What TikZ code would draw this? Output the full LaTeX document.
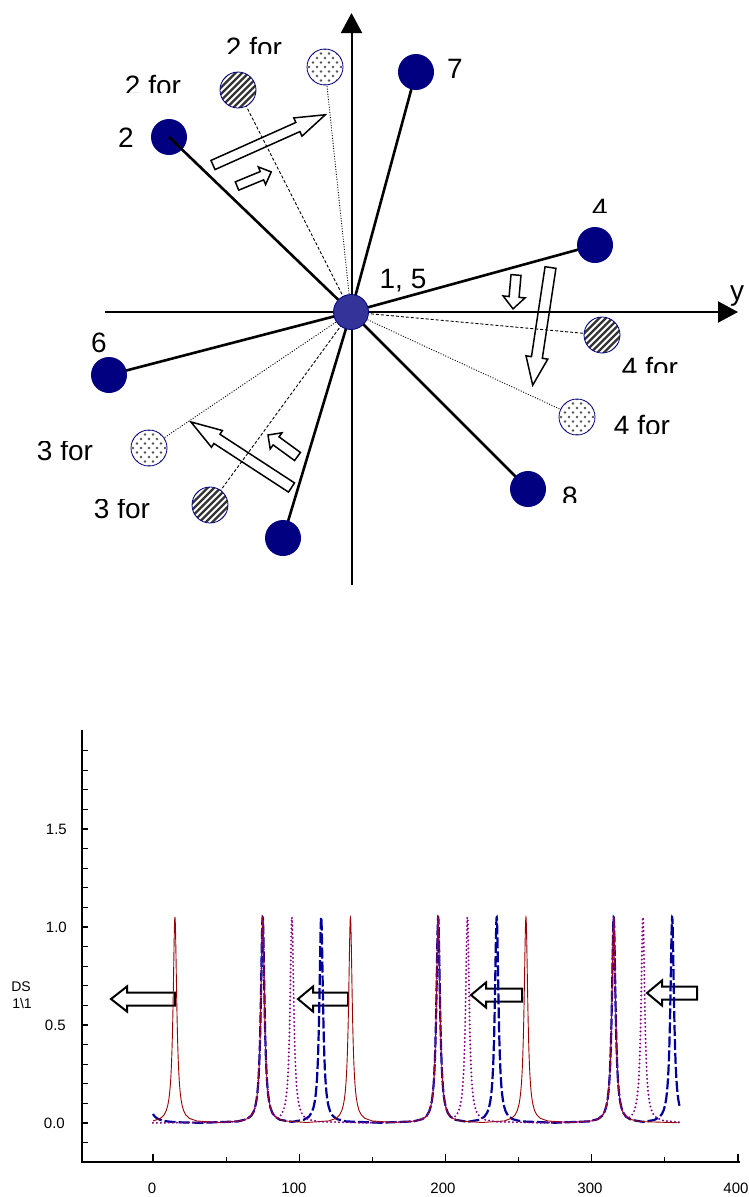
\documentclass[tikz,border=0pt]{standalone}
\usepackage{fontspec}
\setmainfont{Liberation Sans}
\usetikzlibrary{arrows.meta,calc}
\pgfdeclarelayer{low}
\pgfdeclarelayer{mid}
\pgfsetlayers{low,mid,main}

\definecolor{navy}{HTML}{000080}
\definecolor{hubblue}{HTML}{333399}
\definecolor{curvered}{HTML}{990000}
\definecolor{curvepurple}{HTML}{880088}
\definecolor{curveblue}{HTML}{000099}
\definecolor{dotgray}{HTML}{555555}

\tikzset{
  site/.style={circle, fill=navy, inner sep=0pt, minimum size=36pt},
  hub/.style={circle, fill=hubblue, draw=navy, line width=0.8pt, inner sep=0pt, minimum size=35pt},
  striped/.style={circle, draw=navy, line width=0.8pt, fill=white, inner sep=0pt, minimum size=36pt,
    path picture={
      \foreach \k in {-6,...,6}
        \draw[line width=2.2pt, black!80]
          ($(path picture bounding box.center)+(\k*6.5pt-27pt,-27pt)$) -- ++(54pt,54pt);
    }},
  speckled/.style={circle, draw=navy, line width=0.8pt, fill=white, inner sep=0pt, minimum size=36pt,
    path picture={
      \foreach \i in {-3,...,3} \foreach \j in {-2,...,2}
        \fill[dotgray] ($(path picture bounding box.center)+(\i*8pt,\j*9pt)$) circle (1.4pt);
      \foreach \i in {-3,...,2} \foreach \j in {-2,...,1}
        \fill[dotgray] ($(path picture bounding box.center)+(\i*8pt+4pt,\j*9pt+4.5pt)$) circle (1.4pt);
    }},
  spoke/.style={line width=2.6pt},
  dashlink/.style={line width=0.9pt, dash pattern=on 3pt off 2pt},
  dotlink/.style={line width=0.9pt, dash pattern=on 1pt off 1.6pt},
  axisline/.style={line width=2pt},
  axisarrow/.style={line width=2pt, -{Triangle[length=20pt,width=21pt]}},
  lbl/.style={font=\fontsize{28}{32}\selectfont, inner sep=0pt, anchor=base},
  ticklbl/.style={font=\fontsize{15}{17}\selectfont, inner sep=0pt},
  titlelbl/.style={font=\fontsize{14}{16}\selectfont, inner sep=0pt},
  blockline/.style={draw=black, fill=white, line join=miter},
  pics/blockarrow/.style n args={4}{code={
    \draw[blockline] (0,{-#2/2}) -- ({#1-#4},{-#2/2}) -- ({#1-#4},{-#3/2}) -- (#1,0)
      -- ({#1-#4},{#3/2}) -- ({#1-#4},{#2/2}) -- (0,{#2/2}) -- cycle;
  }},
  redcurve/.style={curvered, line width=0.9pt},
  purplecurve/.style={curvepurple, line width=2.2pt, line cap=round, dash pattern=on 0pt off 4pt},
  bluecurve/.style={curveblue, line width=2.2pt, dash pattern=on 11pt off 3pt},
}

% label whose box cuts the glyphs off at the given heights
\newcommand\cutlabel[6]{%
  \begin{scope}
    \clip (#2-70,#5) rectangle (#2+70,#6);
    \node[lbl] (#1) at (#2,#3) {#4};
  \end{scope}}

\begin{document}
\begin{tikzpicture}[x=1pt, y=-1pt]
\useasboundingbox (0,0) rectangle (749,1197);

% ---------- star diagram ----------
\coordinate (vbot) at (351.5,585);
\coordinate (vtop) at (351.5,13);
\coordinate (hleft) at (105,312);
\coordinate (hright) at (738,312);

\node[hub] (n1) at (351,312) {};
\node[site] (n2) at (169,137) {};
\node[site] (n7) at (416,72) {};
\node[site] (n4) at (595,245) {};
\node[site] (n6) at (109,375) {};
\node[site] (n8) at (528,489) {};
\node[site] (n3) at (283,538) {};
\node[striped] (h2) at (238,90) {};
\node[striped] (h4) at (602,335) {};
\node[striped] (h3) at (210,505) {};
\node[speckled] (s2) at (325,67) {};
\node[speckled] (s4) at (577,417) {};
\node[speckled] (s3) at (149,448) {};

\begin{pgfonlayer}{mid}
  \draw[axisarrow] (vbot) -- (vtop);
  \draw[axisarrow] (hleft) -- (hright);
  \foreach \t in {n7,n4,n6,n8,n3} \draw[spoke] (n1.center) -- (\t.center);
  \foreach \t in {h2,h4,h3} \draw[dashlink] (n1.center) -- (\t);
  \foreach \t in {s2,s4,s3} \draw[dotlink] (n1.center) -- (\t);
\end{pgfonlayer}
\draw[spoke] (n1) -- (n2.center);

\begin{pgfonlayer}{low}
  \pic[rotate=24.1, line width=1.5pt] at (213,165) {blockarrow={123}{10}{20}{30}};
  \pic[rotate=22.4, line width=1.5pt] at (237,186) {blockarrow={37}{9}{19}{10}};
  \pic[rotate=-95, line width=1.5pt] at (516,275) {blockarrow={34}{10}{22}{12}};
  \pic[rotate=-98.6, line width=1.5pt] at (550.5,267.5) {blockarrow={119}{11}{22}{28}};
  \pic[rotate=146.9, line width=1.5pt] at (291.5,487.5) {blockarrow={120}{11}{20}{31}};
  \pic[rotate=143.9, line width=1.5pt] at (297.5,456.5) {blockarrow={36.5}{10}{20}{10}};
\end{pgfonlayer}

\node[lbl] (t2) at (126,147) {2};
\node[lbl] (t7) at (455,78) {7};
\node[lbl] (t15) at (403,288) {1, 5};
\node[lbl] (ty) at (737,300) {y};
\node[lbl] (t6) at (99,352) {6};
\cutlabel{t2a}{254}{57}{2 for}{20}{53}
\cutlabel{t2b}{153}{95}{2 for}{60}{92}
\cutlabel{t4}{600}{218}{4}{180}{212}
\cutlabel{t4a}{650}{377}{4 for}{340}{372}
\cutlabel{t4b}{642}{435}{4 for}{400}{433}
\cutlabel{t3a}{65}{460}{3 for}{441}{475}
\cutlabel{t3b}{122}{518}{3 for}{499}{535}
\cutlabel{t8}{570}{506}{8}{470}{502}

% ---------- spectrum plot ----------
\coordinate (ytop) at (82,730);
\coordinate (corner) at (82,1162);
\coordinate (xend) at (740,1162);
\draw[axisline] (ytop) -- (corner) -- (xend);
\foreach \v in {-1,...,19} \draw[line width=1.2pt] (82,{1123-19.6*\v}) -- ++(6,0);
\foreach \v in {0,...,8} {
  \pgfmathsetmacro\tl{ifthenelse(mod(\v,2)==0,8,5)}
  \draw[line width=1.2pt] ({153+73.125*\v},1162) -- ++(0,-\tl);
}
\node[ticklbl, anchor=east] (y15) at (67,829) {1.5};
\node[ticklbl, anchor=east] (y10) at (67,927) {1.0};
\node[ticklbl, anchor=east] (y05) at (66,1025) {0.5};
\node[ticklbl, anchor=east] (y00) at (65,1123) {0.0};
\node[ticklbl] (x0) at (152,1188) {0};
\node[ticklbl] (x100) at (294,1188) {100};
\node[ticklbl] (x200) at (443,1188) {200};
\node[ticklbl] (x300) at (590,1188) {300};
\node[ticklbl] (x400) at (736,1188) {400};
\node[titlelbl] (ds) at (21,987) {DS};
\node[titlelbl] (ds2) at (22,1003) {1\textbackslash 1};

\begin{pgfonlayer}{low}
  \pic[rotate=180, line width=2pt] at (175,999) {blockarrow={64}{13}{25}{16}};
  \pic[rotate=180, line width=2pt] at (348,999) {blockarrow={50}{13}{25}{15}};
  \pic[rotate=180, line width=2pt] at (522,995) {blockarrow={51}{13}{25}{15}};
  \pic[rotate=180, line width=2pt] at (697,993) {blockarrow={50}{13}{25}{15}};
\end{pgfonlayer}

\begin{scope}[shift={(153pt,-1123pt)}, x=1.4625pt, y=196pt]
  \draw[bluecurve]
    plot[domain=77.905:87.955, samples=41, variable=\t] ({-7+1.5*tan(\t)},{1.05*cos(\t)^2})
    -- plot[domain=-87.852:85.711, samples=61, variable=\t] ({75+1.5*tan(\t)},{1.05*cos(\t)^2})
    -- plot[domain=-85.711:87.852, samples=61, variable=\t] ({115+1.5*tan(\t)},{1.05*cos(\t)^2})
    -- plot[domain=-87.852:85.711, samples=61, variable=\t] ({195+1.5*tan(\t)},{1.05*cos(\t)^2})
    -- plot[domain=-85.711:87.852, samples=61, variable=\t] ({235+1.5*tan(\t)},{1.05*cos(\t)^2})
    -- plot[domain=-87.852:85.711, samples=61, variable=\t] ({315+1.5*tan(\t)},{1.05*cos(\t)^2})
    -- plot[domain=-85.711:73.301, samples=61, variable=\t] ({355+1.5*tan(\t)},{1.05*cos(\t)^2});
  \draw[redcurve]
    plot[domain=-84.289:87.138, samples=61, variable=\t] ({15+1.5*tan(\t)},{1.05*cos(\t)^2})
    -- plot[domain=-87.138:87.138, samples=61, variable=\t] ({75+1.5*tan(\t)},{1.05*cos(\t)^2})
    -- plot[domain=-87.138:87.138, samples=61, variable=\t] ({135+1.5*tan(\t)},{1.05*cos(\t)^2})
    -- plot[domain=-87.138:87.138, samples=61, variable=\t] ({195+1.5*tan(\t)},{1.05*cos(\t)^2})
    -- plot[domain=-87.138:87.138, samples=61, variable=\t] ({255+1.5*tan(\t)},{1.05*cos(\t)^2})
    -- plot[domain=-87.138:88.091, samples=61, variable=\t] ({315+1.5*tan(\t)},{1.05*cos(\t)^2});
  \draw[purplecurve]
    plot[domain=-88.854:81.469, samples=61, variable=\t] ({75+1.5*tan(\t)},{1.05*cos(\t)^2})
    -- plot[domain=-81.469:88.282, samples=61, variable=\t] ({95+1.5*tan(\t)},{1.05*cos(\t)^2})
    -- plot[domain=-88.282:81.469, samples=61, variable=\t] ({195+1.5*tan(\t)},{1.05*cos(\t)^2})
    -- plot[domain=-81.469:88.282, samples=61, variable=\t] ({215+1.5*tan(\t)},{1.05*cos(\t)^2})
    -- plot[domain=-88.282:81.469, samples=61, variable=\t] ({315+1.5*tan(\t)},{1.05*cos(\t)^2})
    -- plot[domain=-81.469:86.566, samples=61, variable=\t] ({335+1.5*tan(\t)},{1.05*cos(\t)^2});
\end{scope}
\end{tikzpicture}
\end{document}
